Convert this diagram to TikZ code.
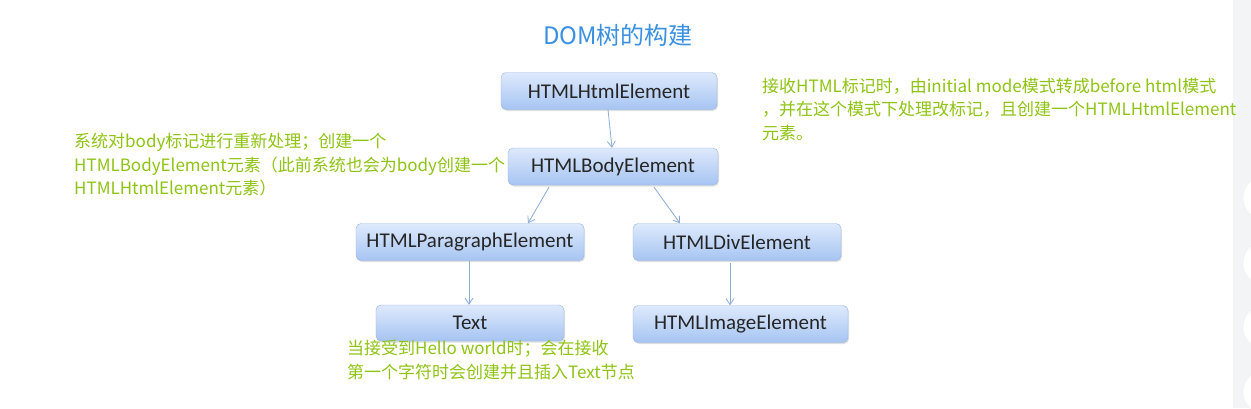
\documentclass[tikz,border=0pt]{standalone}
\usepackage{fontspec}
\usetikzlibrary{positioning, shadows, arrows.meta}
\newfontfamily\cjk{Noto Sans CJK SC}
\newfontfamily\boxfont{Carlito}
\definecolor{titleblue}{RGB}{58,145,225}
\definecolor{notegreen}{RGB}{143,196,20}
\definecolor{boxline}{RGB}{150,180,228}
\definecolor{boxtop}{RGB}{222,233,252}
\definecolor{boxbottom}{RGB}{166,196,242}
\definecolor{edgeblue}{RGB}{140,172,215}
\definecolor{sidebar}{RGB}{243,244,246}
\tikzset{
  % boxes of the tree
  elem/.style={draw=boxline, rounded corners=5pt, top color=boxtop,
    bottom color=boxbottom, minimum height=37pt, inner sep=0pt,
    font=\boxfont\fontsize{21}{24}\selectfont, text=black!85,
    drop shadow={shadow xshift=1pt, shadow yshift=-1.5pt, opacity=0.25}},
  % green remarks
  note/.style={align=left, inner sep=0pt, text=notegreen,
    font=\cjk\fontsize{17}{23.5}\selectfont},
  link/.style={draw=edgeblue, line width=0.8pt, -{Straight Barb[length=6pt, width=8pt]}},
}
\begin{document}
\begin{tikzpicture}[x=1pt, y=-1pt]
  \useasboundingbox (0,0) rectangle (1251,408);
  \fill[white] (0,0) rectangle (1251,408);
  % side bar of the page
  \fill[sidebar] (1233,0) rectangle (1251,408);
  \foreach \cy in {198,263,327,392}
    \filldraw[fill=white, draw=black!6] (1265,\cy) circle (22);

  \node[font=\cjk\fontsize{24}{28}\selectfont, text=titleblue] (title) at (618,35) {DOM树的构建};

  \node[elem, minimum width=216pt] (html_el) at (609,91) {HTMLHtmlElement};
  \node[elem, minimum width=210pt] (body_el) at (613,166.5) {HTMLBodyElement};
  \node[elem, minimum width=228pt] (para_el) at (470,242) {HTMLParagraphElement};
  \node[elem, minimum width=208pt] (div_el) at (737,242) {HTMLDivElement};
  \node[elem, minimum width=188pt, minimum height=36pt] (text_el) at (470,323) {Text};
  \node[elem, minimum width=215pt] (img_el) at (740.5,324) {HTMLImageElement};

  \draw[link] ([xshift=-1pt]html_el.south) -- ([xshift=-1pt]body_el.north);
  \draw[link] ([xshift=-64pt, yshift=-2pt]body_el.south) -- ([xshift=58pt]para_el.north);
  \draw[link] ([xshift=41pt, yshift=-2pt]body_el.south) -- ([xshift=-57pt]div_el.north);
  \draw[link] ([xshift=-1pt]para_el.south) -- ([xshift=-1pt]text_el.north);
  \draw[link] ([xshift=-7pt, yshift=-2pt]div_el.south) -- ([xshift=-10.5pt]img_el.north);

  \node[note, anchor=north west] (note_html) at (762,78)
    {接收HTML标记时，由initial mode模式转成before html模式\\
     ，并在这个模式下处理改标记，且创建一个HTMLHtmlElement\\
     元素。};
  \node[note, anchor=north west] (note_body) at (74,133)
    {系统对body标记进行重新处理；创建一个\\
     HTMLBodyElement元素（此前系统也会为body创建一个\\
     HTMLHtmlElement元素）};
  \node[note, anchor=north west] (note_text) at (347,340)
    {当接受到Hello world时；会在接收\\
     第一个字符时会创建并且插入Text节点};
\end{tikzpicture}
\end{document}
